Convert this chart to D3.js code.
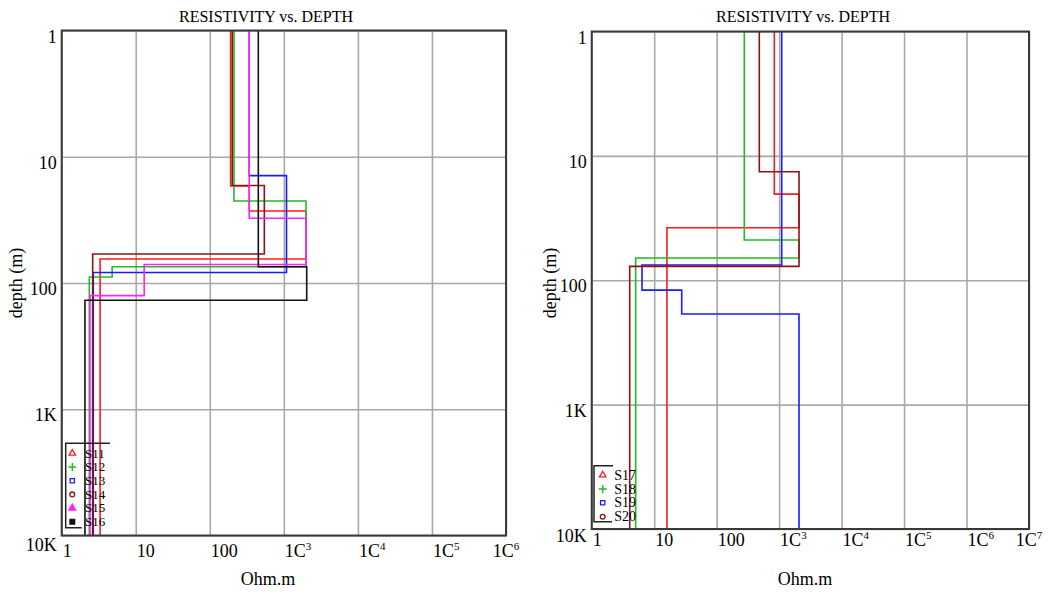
<!DOCTYPE html>
<html>
<head>
<meta charset="utf-8">
<script src="https://cdn.jsdelivr.net/npm/d3@7"></script>
<style>
body { margin: 0; background: #fff; }
svg text { font-family: "Liberation Serif", "Times New Roman", serif; fill: #000; }
</style>
</head>
<body>
<script>
// ---- data ----
// left chart, S11 - S16 : resistivity of each layer (Ohm.m) and the layer boundaries (m)
var leftNames = ["S11", "S12", "S13", "S14", "S15", "S16"];
var leftRho = [
  [191, 341, 2000, 3.3],
  [212, 1990, 4.8, 2.36],
  [341, 1086, 2.67],
  [201, 545, 2.62],
  [341, 2000, 13, 2.41],
  [452, 2036, 2.06]
];
var leftDepth = [
  [17, 26.9, 64.5],
  [22.4, 74.3, 89.6],
  [14.1, 82.6],
  [16.9, 58.9],
  [30.7, 71.3, 126],
  [74.3, 137]
];

// right chart, S17 - S20
var rightNames = ["S17", "S18", "S19", "S20"];
var rightRho = [
  [838, 2081, 16],
  [277, 2081, 5.06],
  [1100, 6.39, 27.6, 2081],
  [482, 2081, 4.06]
];
var rightDepth = [
  [20.3, 37.8],
  [47.5, 66.2],
  [75.4, 120, 187],
  [13.4, 77.3]
];

// tick labels
var yTicks = [1, 10, 100, 1000, 10000];
var yTickLabels = ["1", "10", "100", "1K", "10K"];
var xTicksLeft = [1, 10, 100, 1e3, 1e4, 1e5, 1e6];
var xTicksRight = [1, 10, 100, 1e3, 1e4, 1e5, 1e6, 1e7];
var xTickLabels = [["1", ""], ["10", ""], ["100", ""], ["1C", "3"], ["1C", "4"], ["1C", "5"], ["1C", "6"], ["1C", "7"]];

var colors = ["#ff1a1a", "#22bb22", "#1a1aff", "#8b1414", "#ff22ff", "#111111"];
var markers = ["triUp", "plus", "square", "circle", "triFill", "squareFill"];

var svg = d3.select("body").append("svg")
  .attr("width", 1049)
  .attr("height", 592)
  .attr("font-family", "'Liberation Serif', 'Times New Roman', serif");

function drawPanel(p) {
  var x = d3.scaleLog().domain(p.xDomain).range([p.left, p.right]);
  var y = d3.scaleLog().domain([1, 10000]).range([p.top, p.bottom]);
  var g = svg.append("g");
  var h = p.bottom - p.top;
  var w = p.right - p.left;

  // grid
  g.append("g")
    .attr("transform", "translate(0," + p.bottom + ")")
    .call(d3.axisBottom(x).tickValues(p.xTicks).tickSize(-h).tickFormat(""))
    .call(a => a.select(".domain").remove())
    .call(a => a.selectAll("line").attr("stroke", "#a8a8a8").attr("stroke-width", 1.6));
  g.append("g")
    .attr("transform", "translate(" + p.left + ",0)")
    .call(d3.axisLeft(y).tickValues(yTicks).tickSize(-w).tickFormat(""))
    .call(a => a.select(".domain").remove())
    .call(a => a.selectAll("line").attr("stroke", "#a8a8a8").attr("stroke-width", 1.6));

  // step profiles
  var line = d3.line().x(d => x(d[0])).y(d => y(d[1]));
  p.rho.forEach(function(r, i) {
    var dep = p.depth[i];
    var pts = [[r[0], 1]];
    dep.forEach(function(d, j) {
      pts.push([r[j], d]);
      pts.push([r[j + 1], d]);
    });
    pts.push([r[r.length - 1], 10000]);
    g.append("path")
      .attr("d", line(pts))
      .attr("fill", "none")
      .attr("stroke", colors[i])
      .attr("stroke-width", 1.6);
  });

  // frame
  g.append("rect")
    .attr("x", p.left).attr("y", p.top)
    .attr("width", w).attr("height", h)
    .attr("fill", "none")
    .attr("stroke", "#3a3a3a")
    .attr("stroke-width", 2);

  // y tick labels
  g.selectAll(".ylab").data(yTicks).enter().append("text")
    .attr("x", p.left - 5)
    .attr("y", (d, i) => y(d) + (i == 4 ? p.lastYoff : 12))
    .attr("text-anchor", "end")
    .attr("font-size", "18px")
    .text((d, i) => yTickLabels[i]);

  // x tick labels
  var xl = g.selectAll(".xlab").data(p.xTicks).enter().append("text")
    .attr("x", (d, i) => x(d) + (i == p.xTicks.length - 1 ? 0 : 1))
    .attr("y", p.xLabY)
    .attr("text-anchor", (d, i) => i == p.xTicks.length - 1 ? "middle" : "start")
    .attr("font-size", "18px");
  xl.append("tspan").text((d, i) => xTickLabels[i][0]);
  xl.append("tspan")
    .attr("font-size", "11px")
    .attr("dy", -7)
    .text((d, i) => xTickLabels[i][1]);

  // titles
  g.append("text")
    .attr("x", p.titleX).attr("y", 22)
    .attr("text-anchor", "middle")
    .attr("font-size", "16px")
    .text("RESISTIVITY vs. DEPTH");
  g.append("text")
    .attr("x", p.titleX + 2).attr("y", 585)
    .attr("text-anchor", "middle")
    .attr("font-size", "18px")
    .text("Ohm.m");
  g.append("text")
    .attr("transform", "translate(" + p.depthX + ",283) rotate(-90)")
    .attr("text-anchor", "middle")
    .attr("font-size", "18px")
    .text("depth (m)");

  // legend
  var L = p.legend;
  g.append("path")
    .attr("d", "M" + L.topEnd + "," + L.top + "H" + L.x + "V" + L.bottom + "H" + L.botEnd)
    .attr("fill", "none")
    .attr("stroke", "#222")
    .attr("stroke-width", 1.5);
  p.names.forEach(function(n, i) {
    var cy = L.first + i * L.step;
    var mx = L.mx;
    var m = markers[i];
    var c = colors[i];
    if (m == "plus") {
      g.append("path")
        .attr("d", "M" + (mx - 4) + "," + cy + "H" + (mx + 4) + "M" + mx + "," + (cy - 4) + "V" + (cy + 4))
        .attr("stroke", c).attr("stroke-width", 1.5);
    } else {
      var type = m.indexOf("tri") == 0 ? d3.symbolTriangle : (m.indexOf("square") == 0 ? d3.symbolSquare : d3.symbolCircle);
      var filled = m.indexOf("Fill") > 0;
      g.append("path")
        .attr("transform", "translate(" + mx + "," + cy + ")")
        .attr("d", d3.symbol().type(type).size(filled ? 30 : 18)())
        .attr("fill", filled ? c : "none")
        .attr("stroke", c)
        .attr("stroke-width", filled ? 0.5 : 1.3);
    }
    g.append("text")
      .attr("x", L.tx).attr("y", cy + L.fs * 0.33)
      .attr("font-size", L.fs + "px")
      .text(n);
  });
}

drawPanel({
  left: 61.7, right: 506, top: 30.5, bottom: 535.5,
  xDomain: [1, 1e6], xTicks: xTicksLeft,
  rho: leftRho, depth: leftDepth, names: leftNames,
  titleX: 266, depthX: 22, xLabY: 557, lastYoff: 15,
  legend: { x: 65.7, top: 443.3, bottom: 527.7, topEnd: 110, botEnd: 81.7,
            first: 453.3, step: 13.7, mx: 72.3, tx: 85, fs: 13 }
});

drawPanel({
  left: 591.7, right: 1029, top: 31.5, bottom: 529,
  xDomain: [1, 1e7], xTicks: xTicksRight,
  rho: rightRho, depth: rightDepth, names: rightNames,
  titleX: 803, depthX: 556, xLabY: 546, lastYoff: 12.5,
  legend: { x: 594, top: 465.7, bottom: 521.7, topEnd: 613, botEnd: 612,
            first: 475, step: 13.9, mx: 602.7, tx: 614.3, fs: 14 }
});
</script>
</body>
</html>
